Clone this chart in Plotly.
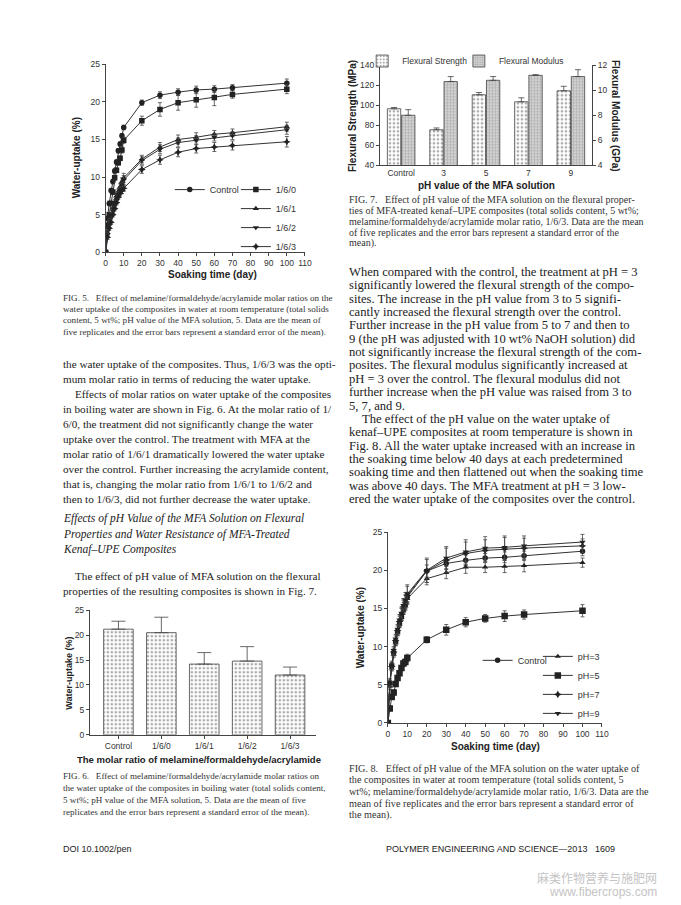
import plotly.graph_objects as go

W, H = 681, 905
SANS = "Liberation Sans"
SERIF = "Liberation Serif"


def px(x):
    return x / W


def py(y):
    return 1 - y / H


# ---------------- data ----------------
days = [0, 1, 2, 3, 4, 5, 6, 7, 8, 9, 10, 20, 30, 40, 50, 60, 70, 100]

# Fig. 5 – molar ratios, water uptake at room temperature
f5_names = ["Control", "1/6/0", "1/6/1", "1/6/2", "1/6/3"]
f5_control = [0, 4.5, 6.5, 8.2, 9.4, 10.8, 12.0, 13.5, 14.4, 15.5, 16.6, 19.9, 20.9, 21.3, 21.6, 21.7, 21.9, 22.5]
f5_160 = [0, 3.6, 5.0, 6.5, 8.0, 9.9, 10.9, 11.9, 12.5, 13.6, 14.9, 17.5, 19.0, 19.9, 20.3, 20.6, 21.0, 21.7]
f5_161 = [0, 2.6, 3.9, 5.0, 5.9, 6.7, 7.5, 8.1, 8.7, 9.4, 9.9, 12.4, 14.0, 15.0, 15.3, 15.7, 15.9, 16.7]
f5_162 = [0, 2.3, 3.6, 4.8, 5.5, 6.3, 7.1, 7.7, 8.3, 9.0, 9.6, 12.2, 13.7, 14.6, 14.9, 15.3, 15.5, 16.3]
f5_163 = [0, 2.0, 3.2, 4.0, 5.0, 5.8, 6.6, 7.3, 7.8, 8.2, 8.5, 11.0, 12.3, 13.3, 13.8, 14.0, 14.2, 14.7]
f5_err_control = [0, .3, .3, .3, .3, .3, .3, .3, .3, .3, .3, .35, .45, .45, .5, .45, .4, .55]
f5_err_160 = [0, .3, .3, .3, .3, .3, .3, .3, .3, .4, .4, .6, .9, 1.0, 1.0, 1.1, .5, .6]
f5_err_161 = [0, .3, .3, .3, .3, .3, .3, .3, .4, .5, .6, .5, .6, .6, .6, .5, .5, .6]
f5_err_162 = [0, .3, .3, .3, .3, .3, .3, .3, .4, .5, .6, .5, .6, .6, .6, .5, .5, .6]
f5_err_163 = [0, .3, .3, .3, .3, .3, .3, .3, .3, .4, .4, .5, .6, .6, .6, .6, .6, .7]

# Fig. 6 – boiling water uptake
f6_cats = ["Control", "1/6/0", "1/6/1", "1/6/2", "1/6/3"]
f6_vals = [21.2, 20.5, 14.2, 14.8, 12.0]
f6_err = [1.6, 3.1, 2.3, 2.9, 1.6]

# Fig. 7 – flexural properties vs pH
f7_cats = ["Control", "3", "5", "7", "9"]
f7_strength = [96.5, 75.5, 110.5, 103.5, 114.5]
f7_strength_err = [1.3, 1.8, 2.3, 4.0, 4.5]
f7_modulus = [8.0, 10.7, 10.8, 11.2, 11.1]
f7_modulus_err = [0.45, 0.4, 0.3, 0.05, 0.55]

# Fig. 8 – pH, water uptake at room temperature
f8_names = ["Control", "pH=3", "pH=5", "pH=7", "pH=9"]
f8_control = [0, 5.2, 7.5, 9.2, 10.6, 11.9, 13.0, 13.9, 14.9, 15.5, 16.5, 19.9, 20.9, 21.3, 21.6, 21.7, 21.9, 22.5]
f8_ph3 = [0, 4.8, 7.2, 9.0, 10.5, 11.8, 12.9, 13.8, 14.7, 15.3, 16.3, 18.9, 19.7, 20.4, 20.4, 20.5, 20.6, 21.0]
f8_ph5 = [0, 1.9, 3.4, 4.0, 5.1, 5.9, 6.5, 7.2, 7.8, 8.0, 8.5, 10.9, 12.2, 13.2, 13.7, 14.0, 14.2, 14.7]
f8_ph7 = [0, 5.1, 7.4, 9.3, 10.8, 12.1, 13.3, 14.2, 15.2, 15.8, 16.7, 19.9, 21.3, 22.2, 22.6, 22.8, 22.9, 23.2]
f8_ph9 = [0, 5.3, 7.6, 9.5, 11.0, 12.3, 13.5, 14.4, 15.4, 16.1, 16.9, 20.0, 21.6, 22.4, 22.9, 23.0, 23.2, 23.7]
f8_err_control = [0, .4, .4, .4, .4, .4, .4, .4, .5, .5, .6, .8, .7, .7, .6, .7, .6, .6]
f8_err_ph3 = [0, .4, .4, .4, .4, .4, .4, .4, .5, .5, .6, .8, .8, .8, .7, .8, .8, .6]
f8_err_ph5 = [0, .3, .3, .3, .3, .3, .3, .3, .4, .4, .5, .4, .7, .6, .5, .7, .6, .8]
f8_err_ph7 = [0, .5, .5, .5, .6, .6, .7, .8, .9, 1.0, 1.2, 1.5, 1.6, 1.5, 1.4, 1.5, 1.3, .9]
f8_err_ph9 = [0, .5, .5, .5, .6, .6, .7, .8, .9, 1.0, 1.2, 1.6, 1.5, 1.6, 1.5, 1.5, 1.3, 1.0]

# ---------------- page text ----------------
cap5 = [
    "FIG. 5.   Effect of melamine/formaldehyde/acrylamide molar ratios on the",
    "water uptake of the composites in water at room temperature (total solids",
    "content, 5 wt%; pH value of the MFA solution, 5. Data are the mean of",
    "five replicates and the error bars represent a standard error of the mean).",
]
body_left = [
    "the water uptake of the composites. Thus, 1/6/3 was the opti-",
    "mum molar ratio in terms of reducing the water uptake.",
    "\tEffects of molar ratios on water uptake of the composites",
    "in boiling water are shown in Fig. 6. At the molar ratio of 1/",
    "6/0, the treatment did not significantly change the water",
    "uptake over the control. The treatment with MFA at the",
    "molar ratio of 1/6/1 dramatically lowered the water uptake",
    "over the control. Further increasing the acrylamide content,",
    "that is, changing the molar ratio from 1/6/1 to 1/6/2 and",
    "then to 1/6/3, did not further decrease the water uptake.",
]
heading = [
    "Effects of pH Value of the MFA Solution on Flexural",
    "Properties and Water Resistance of MFA-Treated",
    "Kenaf–UPE Composites",
]
body_left2 = [
    "\tThe effect of pH value of MFA solution on the flexural",
    "properties of the resulting composites is shown in Fig. 7.",
]
cap6 = [
    "FIG. 6.   Effect of melamine/formaldehyde/acrylamide molar ratios on",
    "the water uptake of the composites in boiling water (total solids content,",
    "5 wt%; pH value of the MFA solution, 5. Data are the mean of five",
    "replicates and the error bars represent a standard error of the mean).",
]
cap7 = [
    "FIG. 7.   Effect of pH value of the MFA solution on the flexural proper-",
    "ties of MFA-treated kenaf–UPE composites (total solids content, 5 wt%;",
    "melamine/formaldehyde/acrylamide molar ratio, 1/6/3. Data are the mean",
    "of five replicates and the error bars represent a standard error of the",
    "mean).",
]
body_right = [
    "When compared with the control, the treatment at pH = 3",
    "significantly lowered the flexural strength of the compo-",
    "sites. The increase in the pH value from 3 to 5 signifi-",
    "cantly increased the flexural strength over the control.",
    "Further increase in the pH value from 5 to 7 and then to",
    "9 (the pH was adjusted with 10 wt% NaOH solution) did",
    "not significantly increase the flexural strength of the com-",
    "posites. The flexural modulus significantly increased at",
    "pH = 3 over the control. The flexural modulus did not",
    "further increase when the pH value was raised from 3 to",
    "5, 7, and 9.",
    "\tThe effect of the pH value on the water uptake of",
    "kenaf–UPE composites at room temperature is shown in",
    "Fig. 8. All the water uptake increased with an increase in",
    "the soaking time below 40 days at each predetermined",
    "soaking time and then flattened out when the soaking time",
    "was above 40 days. The MFA treatment at pH = 3 low-",
    "ered the water uptake of the composites over the control.",
]
cap8 = [
    "FIG. 8.   Effect of pH value of the MFA solution on the water uptake of",
    "the composites in water at room temperature (total solids content, 5",
    "wt%; melamine/formaldehyde/acrylamide molar ratio, 1/6/3. Data are the",
    "mean of five replicates and the error bars represent a standard error of",
    "the mean).",
]

# ---------------- figure ----------------
fig = go.Figure()
LINE = "#333333"
MK = "#222222"


def errbar(arr):
    return dict(type="data", array=arr, color="#444", thickness=0.8, width=2)


symbols = ["circle", "square", "triangle-up", "triangle-down", "star-diamond"]
f5_series = [f5_control, f5_160, f5_161, f5_162, f5_163]
f5_errs = [f5_err_control, f5_err_160, f5_err_161, f5_err_162, f5_err_163]
for i, (nm, ys, es, sym) in enumerate(zip(f5_names, f5_series, f5_errs, symbols)):
    fig.add_trace(go.Scatter(
        x=days, y=ys, name=nm, mode="lines+markers", xaxis="x", yaxis="y",
        line=dict(color=LINE, width=1), marker=dict(symbol=sym, size=5.5, color=MK),
        error_y=errbar(es), legend="legend" if i == 0 else "legend2"))

f8_symbols = ["circle", "triangle-up", "square", "star-diamond", "triangle-down"]
f8_series = [f8_control, f8_ph3, f8_ph5, f8_ph7, f8_ph9]
f8_errs = [f8_err_control, f8_err_ph3, f8_err_ph5, f8_err_ph7, f8_err_ph9]
for i, (nm, ys, es, sym) in enumerate(zip(f8_names, f8_series, f8_errs, f8_symbols)):
    fig.add_trace(go.Scatter(
        x=days, y=ys, name=nm, mode="lines+markers", xaxis="x4", yaxis="y5",
        line=dict(color=LINE, width=1),
        marker=dict(symbol=sym, size=6.5 if sym == "square" else 5.5, color=MK),
        error_y=errbar(es), legend="legend4" if i == 0 else "legend5"))

dots = dict(shape=".", fgcolor="#555", bgcolor="white", size=4, solidity=0.35)
grid = dict(shape="+", fgcolor="#777", bgcolor="#d2d2d2", size=3, solidity=0.3)
fig.add_trace(go.Bar(
    x=f7_cats, y=f7_strength, name="Flexural Strength", xaxis="x2", yaxis="y2",
    offsetgroup="s", legend="legend3",
    marker=dict(color="white", line=dict(color="#444", width=0.8), pattern=dots),
    error_y=dict(type="data", symmetric=False, array=f7_strength_err, arrayminus=[0] * 5,
                 color="#444", thickness=0.8, width=3)))
fig.add_trace(go.Bar(
    x=f7_cats, y=f7_modulus, name="Flexural Modulus", xaxis="x2", yaxis="y3",
    offsetgroup="m", legend="legend6",
    marker=dict(color="#d2d2d2", line=dict(color="#444", width=0.8), pattern=grid),
    error_y=dict(type="data", symmetric=False, array=f7_modulus_err, arrayminus=[0] * 5,
                 color="#444", thickness=0.8, width=3)))

fig.add_trace(go.Bar(
    x=f6_cats, y=f6_vals, xaxis="x3", yaxis="y4", width=0.69, showlegend=False,
    marker=dict(color="white", line=dict(color="#444", width=0.8), pattern=dots),
    error_y=dict(type="data", symmetric=False, array=f6_err, arrayminus=[0] * 5,
                 color="#444", thickness=0.8, width=7)))

ax = dict(showline=True, linecolor="#444", linewidth=1, ticks="outside", ticklen=3,
          tickcolor="#444", tickwidth=1, showgrid=False, zeroline=False,
          tickfont=dict(family=SANS, size=8.5, color="#333"), fixedrange=True)

layout = dict(
    width=W, height=H, autosize=False, margin=dict(l=0, r=0, t=0, b=0),
    paper_bgcolor="white", plot_bgcolor="rgba(0,0,0,0)",
    barmode="group", bargap=0.33, bargroupgap=0.06,
    font=dict(family=SANS, color="#222"),
    xaxis=dict(ax, domain=[px(105), px(307)], range=[0, 110], dtick=10, anchor="y"),
    yaxis=dict(ax, domain=[py(250), py(60)], range=[0, 25], dtick=5, anchor="x"),
    xaxis2=dict(ax, domain=[px(383), px(598)], type="category", anchor="y2", ticks=""),
    yaxis2=dict(ax, domain=[py(162), py(61)], range=[40, 140], dtick=20, anchor="x2"),
    yaxis3=dict(ax, range=[4, 12], dtick=2, anchor="x2", overlaying="y2", side="right"),
    xaxis3=dict(ax, domain=[px(89), px(318)], type="category", range=[-0.667, 4.6], anchor="y4"),
    yaxis4=dict(ax, domain=[py(738), py(612)], range=[0, 25], dtick=5, anchor="x3"),
    xaxis4=dict(ax, domain=[px(391), px(608)], range=[0, 110], dtick=10, anchor="y5"),
    yaxis5=dict(ax, domain=[py(726), py(533)], range=[0, 25], dtick=5, anchor="x4"),
)
leg = dict(bgcolor="rgba(0,0,0,0)", borderwidth=0, font=dict(family=SANS, size=9, color="#333"),
           xanchor="left", yanchor="top", tracegroupgap=0)
layout["legend"] = dict(leg, x=px(170), y=py(172))
layout["legend2"] = dict(leg, x=px(237), y=py(172))
layout["legend3"] = dict(leg, x=px(365), y=py(42), orientation="h", font=dict(family=SANS, size=8.5, color="#333"))
layout["legend6"] = dict(leg, x=px(463), y=py(42), orientation="h", font=dict(family=SANS, size=8.5, color="#333"))
layout["legend4"] = dict(leg, x=px(482), y=py(648))
layout["legend5"] = dict(leg, x=px(543), y=py(644))
fig.update_layout(**layout)

ann = []


def title(text, x, y, size=10, angle=0):
    ann.append(dict(text="<b>%s</b>" % text, x=px(x), y=py(y), xref="paper", yref="paper",
                    showarrow=False, textangle=angle, xanchor="center", yanchor="middle",
                    font=dict(family=SANS, size=size, color="#222")))


title("Water-uptake (%)", 75, 155, angle=-90)
title("Soaking time (day)", 213, 273)
title("Flexural Strength (MPa)", 355, 112, size=10, angle=-90)
title("Flexural Modulus (GPa)", 621, 112, size=10, angle=90)
title("pH value of the MFA solution", 491, 183)
title("Water-uptake (%)", 67, 676, size=9, angle=-90)
title("The molar ratio of melamine/formaldehyde/acrylamide", 200, 763, size=9.5)
title("Water-uptake (%)", 363, 630, angle=-90)
title("Soaking time (day)", 500, 750)


def block(lines, x, y0, step, size, family=SERIF, color="#222", italic=False, indent=12):
    for i, t in enumerate(lines):
        xx = x
        if t.startswith("\t"):
            t = t[1:]
            xx = x + indent
        txt = "<i>%s</i>" % t if italic else t
        ann.append(dict(text=txt, x=px(xx), y=py(y0 + i * step), xref="paper", yref="paper",
                        showarrow=False, xanchor="left", yanchor="middle",
                        font=dict(family=family, size=size, color=color)))


block(cap5, 60, 296, 11.5, 9.1, color="#333")
block(body_left, 60, 363, 15.2, 11.2)
block(heading, 60, 519, 16, 11.5, italic=True)
block(body_left2, 60, 577, 15.5, 11.2)
block(cap6, 60, 780, 12, 9.1, color="#333")
block(cap7, 350, 197, 11, 10, color="#333")
block(body_right, 350, 270, 13.5, 12.6, indent=13)
block(cap8, 350, 772, 11.8, 10.2, color="#333")

ann.append(dict(text="DOI 10.1002/pen", x=px(60), y=py(853), xref="paper", yref="paper",
                showarrow=False, xanchor="left", yanchor="middle",
                font=dict(family=SANS, size=9, color="#222")))
ann.append(dict(text="POLYMER ENGINEERING AND SCIENCE—2013   1609", x=px(623), y=py(853),
                xref="paper", yref="paper", showarrow=False, xanchor="right", yanchor="middle",
                font=dict(family=SANS, size=9, color="#222")))
ann.append(dict(text="麻类作物营养与施肥网", x=px(666), y=py(882), xref="paper", yref="paper",
                showarrow=False, xanchor="right", yanchor="middle",
                font=dict(family="Noto Sans CJK SC", size=12, color="#c4c4c4")))
ann.append(dict(text="www.fibercrops.com", x=px(666), y=py(897), xref="paper", yref="paper",
                showarrow=False, xanchor="right", yanchor="middle",
                font=dict(family=SANS, size=12, color="#c4c4c4")))

fig.update_layout(annotations=ann)
fig.write_html("out.html", config={"displayModeBar": False},
               post_script="document.body.style.margin='0';document.body.style.overflow='hidden';")
